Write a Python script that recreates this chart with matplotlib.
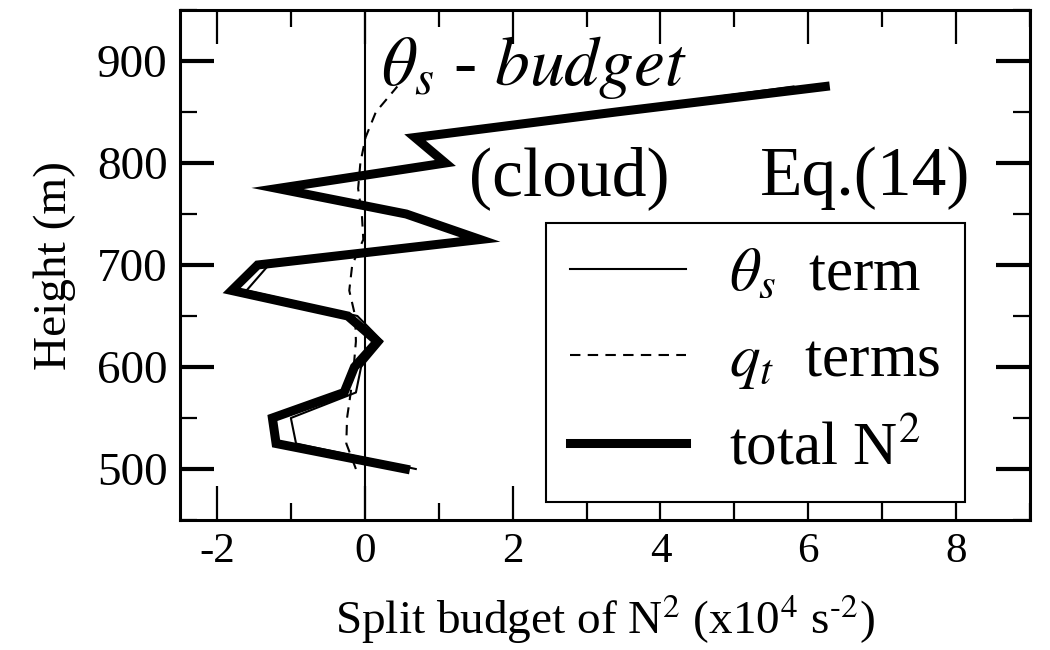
import numpy as np
import matplotlib
matplotlib.use('Agg')
import matplotlib.pyplot as plt
from matplotlib.ticker import MultipleLocator

plt.rcParams['font.family'] = ['Liberation Serif', 'DejaVu Serif']
plt.rcParams['mathtext.fontset'] = 'stix'
plt.rcParams['axes.unicode_minus'] = False

# alturas (m) e termos do orcamento de N^2 (x10^4 s^-2)
altura = np.array([500, 525, 550, 575, 600, 625, 650, 675,
                   700, 725, 750, 775, 800, 825, 850, 875], dtype=float)
termo_theta = np.array([0.69, -0.93, -1.00, -0.12, -0.05, 0.24, -0.10, -1.60,
                        -1.30, 1.60, 0.60, -1.12, 1.15, 0.66, 3.25, 5.80])
termo_qt = np.array([-0.12, -0.25, -0.24, -0.19, -0.15, -0.12, -0.13, -0.21,
                     -0.17, -0.02, -0.04, -0.09, -0.06, 0.01, 0.15, 0.44])
total = np.array([0.55, -1.20, -1.25, -0.28, -0.14, 0.17, -0.23, -1.80,
                  -1.45, 1.56, 0.56, -1.18, 1.09, 0.68, 3.40, 6.23])

fig = plt.figure(figsize=(10.5, 6.5), dpi=100)
ax = fig.add_axes([180/1050, 130/650, 850/1050, 510/650])

ax.axvline(0, color='k', lw=1.5, zorder=1)
l_tot, = ax.plot(total, altura, color='k', lw=6.5, solid_joinstyle='miter',
                 label='total N$^2$')
l_theta, = ax.plot(termo_theta, altura, color='k', lw=1.5,
                   label=r'$\theta_s$  term')
l_qt, = ax.plot(termo_qt, altura, color='k', lw=1.5, ls=(0, (5, 3.5)),
                label=r'$q_t$  terms')

ax.set_xlim(-2.5, 9)
ax.set_ylim(450, 950)
ax.xaxis.set_major_locator(MultipleLocator(2))
ax.xaxis.set_minor_locator(MultipleLocator(1))
ax.yaxis.set_major_locator(MultipleLocator(100))
ax.yaxis.set_minor_locator(MultipleLocator(50))
ax.tick_params(which='both', direction='in', top=True, right=True)
ax.tick_params(axis='x', which='major', length=24.5, width=1.6, labelsize=31, pad=9)
ax.tick_params(axis='x', which='minor', length=12, width=1.6)
ax.tick_params(axis='y', which='major', length=24.5, width=3, labelsize=34, pad=9)
ax.tick_params(axis='y', which='minor', length=12, width=1.6)
for s in ax.spines.values():
    s.set_linewidth(2.2)

ax.set_xlabel(r'Split budget of N$^2$ (x10$^4$ s$^{\text{-}2}$)', fontsize=34, labelpad=15)
ax.set_ylabel('Height (m)', fontsize=34, labelpad=15)

ax.text(0.22, 876, r'$\theta_s$ - $budget$', fontsize=50, va='baseline')
ax.text(1.41, 769, '(cloud)', fontsize=50, va='baseline')
ax.text(5.35, 769, 'Eq.(14)', fontsize=50, va='baseline')

leg = ax.legend(handles=[l_theta, l_qt, l_tot], loc='lower right',
                bbox_to_anchor=(0.9235, 0.035), borderaxespad=0, fontsize=44,
                handlelength=1.9, handletextpad=0.7, labelspacing=0.5,
                borderpad=0.4, fancybox=False, edgecolor='k', framealpha=1)
leg.get_frame().set_linewidth(1.5)

fig.savefig('out.png', dpi=100)
